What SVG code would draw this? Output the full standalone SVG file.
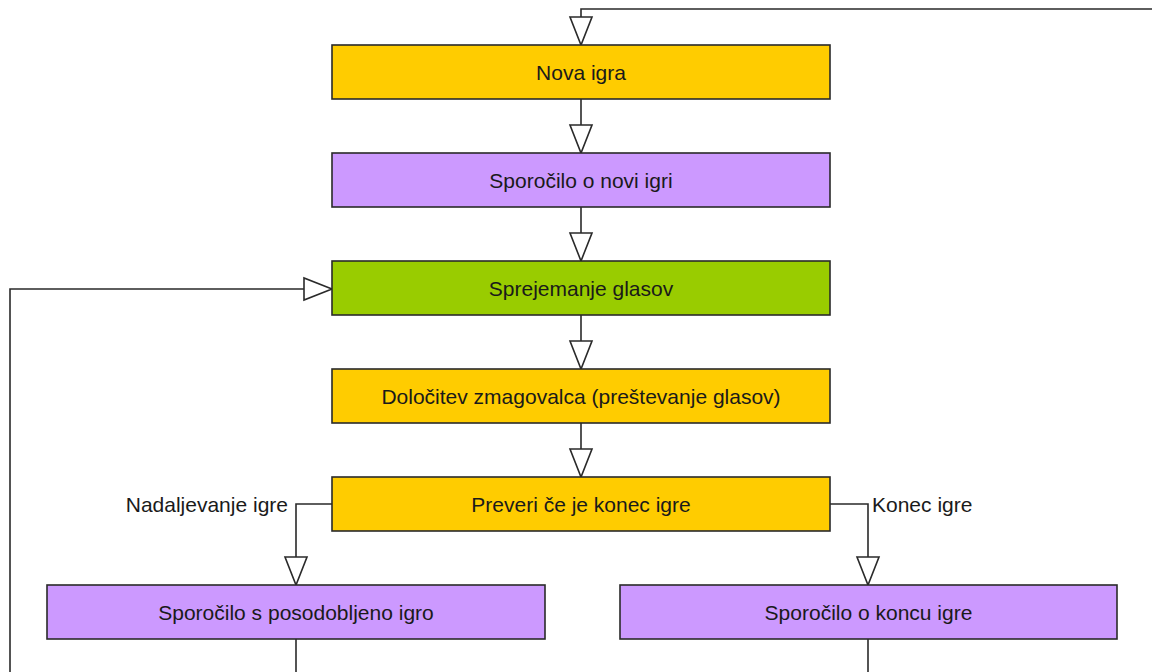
<svg xmlns="http://www.w3.org/2000/svg" width="1152" height="672" viewBox="0 0 1152 672">
<style>
.box{stroke:#2a2a2a;stroke-width:1.6}
.o{fill:#FFCC00}.p{fill:#CC99FF}.g{fill:#99CC00}
text{font-family:"Liberation Sans",Arial,sans-serif;font-size:21px;fill:#1a1a1a}
.c{text-anchor:middle}
.line{fill:none;stroke:#2a2a2a;stroke-width:1.6}
.head{fill:#fff;stroke:#2a2a2a;stroke-width:1.6;stroke-linejoin:miter}
</style>
<rect width="1152" height="672" fill="#fff"/>
<g id="connectors">
<polyline class="line" points="1152,9 581,9 581,17"/>
<polygon class="head" points="570,17 592,17 581,45"/>
<line class="line" x1="581" y1="99" x2="581" y2="125"/>
<polygon class="head" points="570,125 592,125 581,153"/>
<line class="line" x1="581" y1="207" x2="581" y2="233"/>
<polygon class="head" points="570,233 592,233 581,261"/>
<line class="line" x1="581" y1="315" x2="581" y2="341"/>
<polygon class="head" points="570,341 592,341 581,369"/>
<line class="line" x1="581" y1="423" x2="581" y2="449"/>
<polygon class="head" points="570,449 592,449 581,477"/>
<polyline class="line" points="332,504 296,504 296,557"/>
<polygon class="head" points="285,557 307,557 296,585"/>
<polyline class="line" points="830,504 868,504 868,557"/>
<polygon class="head" points="857,557 879,557 868,585"/>
<line class="line" x1="296" y1="639" x2="296" y2="672"/>
<line class="line" x1="868" y1="639" x2="868" y2="672"/>
<polyline class="line" points="10,672 10,289 304,289"/>
<polygon class="head" points="304,278 304,300 332,289"/>
<text x="288" y="512" text-anchor="end">Nadaljevanje igre</text>
<text x="872" y="512">Konec igre</text>
</g>
<g id="nova-igra"><rect class="box o" x="332" y="45" width="498" height="54"/><text class="c" x="581" y="79.5">Nova igra</text></g>
<g id="sporocilo-novi"><rect class="box p" x="332" y="153" width="498" height="54"/><text class="c" x="581" y="187.5">Sporočilo o novi igri</text></g>
<g id="sprejemanje"><rect class="box g" x="332" y="261" width="498" height="54"/><text class="c" x="581" y="295.5">Sprejemanje glasov</text></g>
<g id="dolocitev"><rect class="box o" x="332" y="369" width="498" height="54"/><text class="c" x="581" y="403.5">Določitev zmagovalca (preštevanje glasov)</text></g>
<g id="preveri"><rect class="box o" x="332" y="477" width="498" height="54"/><text class="c" x="581" y="511.5">Preveri če je konec igre</text></g>
<g id="sporocilo-posodobljeno"><rect class="box p" x="47" y="585" width="498" height="54"/><text class="c" x="296" y="619.5">Sporočilo s posodobljeno igro</text></g>
<g id="sporocilo-konec"><rect class="box p" x="620" y="585" width="497" height="54"/><text class="c" x="868.5" y="619.5">Sporočilo o koncu igre</text></g>
</svg>
